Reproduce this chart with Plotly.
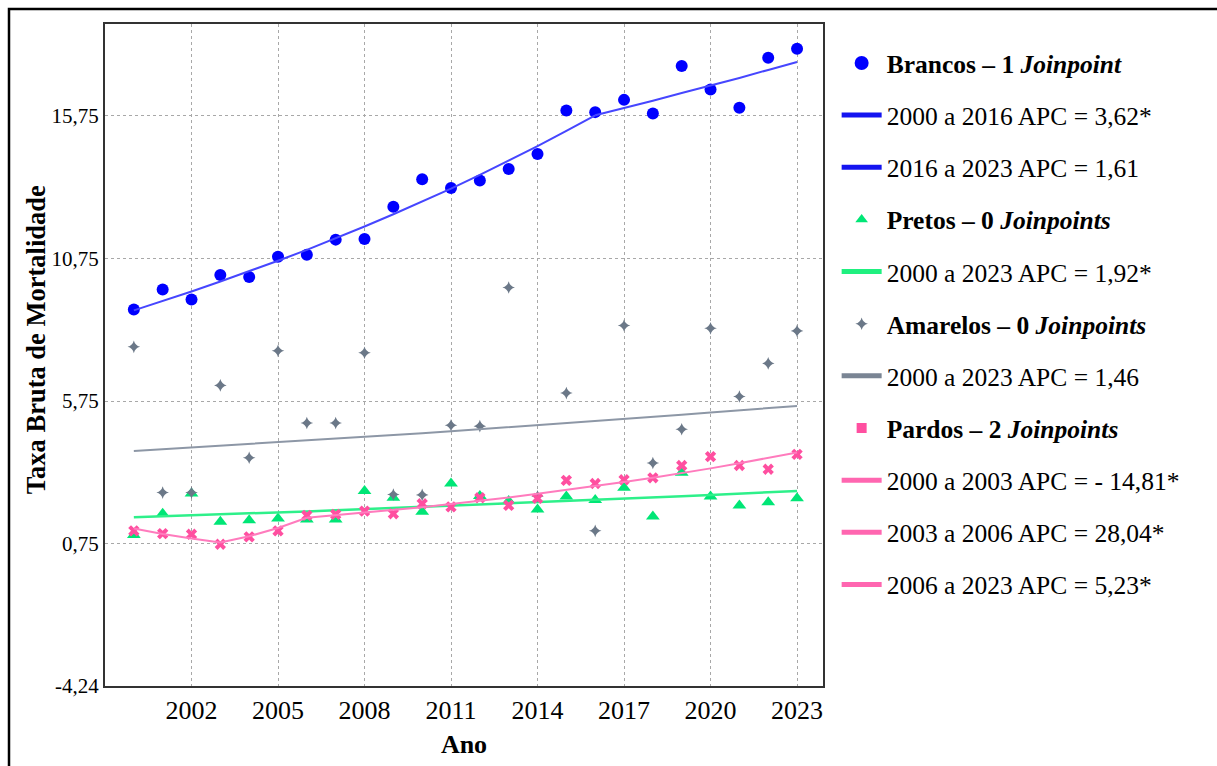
import plotly.graph_objects as go

# Crude mortality rate by race/colour, 2000-2023, with Joinpoint fitted trends
years = list(range(2000, 2024))

brancos = [8.96, 9.66, 9.31, 10.17, 10.10, 10.81, 10.88, 11.41, 11.43, 12.56, 13.53, 13.22,
           13.48, 13.89, 14.41, 15.94, 15.88, 16.31, 15.83, 17.50, 16.67, 16.03, 17.79, 18.10]
pretos = [1.05, 1.80, 2.51, 1.52, 1.57, 1.63, 1.60, 1.60, 2.60, 2.36, 1.87, 2.86,
          2.42, 2.25, 1.95, 2.40, 2.28, 2.71, 1.70, 3.24, 2.40, 2.09, 2.20, 2.34]
amarelos = [7.65, 2.54, 2.54, 6.30, 3.76, 7.51, 4.98, 4.98, 7.44, 2.47, 2.46, 4.90,
            4.87, 9.73, 2.41, 6.03, 1.20, 8.40, 3.58, 4.76, 8.30, 5.91, 7.07, 8.21]
pardos = [1.20, 1.10, 1.08, 0.73, 0.99, 1.20, 1.74, 1.78, 1.89, 1.80, 2.15, 2.04,
          2.36, 2.09, 2.34, 2.97, 2.86, 2.99, 3.06, 3.49, 3.80, 3.49, 3.36, 3.88]

# Modelled (fitted) values per year
brancos_fit = [8.93, 9.25, 9.59, 9.94, 10.30, 10.67, 11.05, 11.45, 11.87, 12.30, 12.74, 13.20,
               13.68, 14.18, 14.69, 15.22, 15.77, 16.02, 16.28, 16.55, 16.81, 17.08, 17.36, 17.64]
pretos_fit = [1.68, 1.71, 1.75, 1.78, 1.81, 1.85, 1.88, 1.92, 1.96, 1.99, 2.03, 2.07,
              2.11, 2.15, 2.19, 2.24, 2.28, 2.32, 2.37, 2.41, 2.46, 2.51, 2.55, 2.60]
amarelos_fit = [4.00, 4.06, 4.12, 4.18, 4.24, 4.30, 4.36, 4.42, 4.49, 4.55, 4.62, 4.69,
                4.76, 4.83, 4.90, 4.97, 5.04, 5.12, 5.19, 5.27, 5.35, 5.42, 5.50, 5.58]
pardos_fit = [1.28, 1.09, 0.93, 0.79, 1.01, 1.30, 1.66, 1.75, 1.84, 1.93, 2.03, 2.14,
              2.25, 2.37, 2.50, 2.63, 2.76, 2.91, 3.06, 3.22, 3.39, 3.57, 3.75, 3.95]

# Joinpoint segments: (first year, last year, legend label)
brancos_seg = [(2000, 2016, "2000 a 2016 APC = 3,62*"), (2016, 2023, "2016 a 2023 APC = 1,61")]
pretos_seg = [(2000, 2023, "2000 a 2023 APC = 1,92*")]
amarelos_seg = [(2000, 2023, "2000 a 2023 APC = 1,46")]
pardos_seg = [(2000, 2003, "2000 a 2003 APC = - 14,81*"), (2003, 2006, "2003 a 2006 APC = 28,04*"),
              (2006, 2023, "2006 a 2023 APC = 5,23*")]

y_ticks = [-4.24, 0.75, 5.75, 10.75, 15.75]
y_ticktext = ["-4,24", "0,75", "5,75", "10,75", "15,75"]
x_ticks = [2002, 2005, 2008, 2011, 2014, 2017, 2020, 2023]

series = [
    dict(name="<b>Brancos – 1 <i>Joinpoint</i></b>", obs=brancos, fit=brancos_fit, seg=brancos_seg,
         mcolor="#0000ff", lcolor="#4646ff", legcolor="#1414f0", symbol="circle", size=12,
         legsymbol="circle", legsize=14, lwidth=2),
    dict(name="<b>Pretos – 0 <i>Joinpoints</i></b>", obs=pretos, fit=pretos_fit, seg=pretos_seg,
         mcolor="#00e676", lcolor="#2ef08a", legcolor="#1ff07f", symbol="triangle-up", size=12,
         legsymbol="triangle-up", legsize=11, lwidth=2.5),
    dict(name="<b>Amarelos – 0 <i>Joinpoints</i></b>", obs=amarelos, fit=amarelos_fit, seg=amarelos_seg,
         mcolor="#6b7888", lcolor="#8d97a6", legcolor="#7a8594", symbol="star-diamond", size=9,
         legsymbol="star-diamond", legsize=9, lwidth=2),
    dict(name="<b>Pardos – 2 <i>Joinpoints</i></b>", obs=pardos, fit=pardos_fit, seg=pardos_seg,
         mcolor="#ff4fa0", lcolor="#ff7bbd", legcolor="#ff66b0", symbol="x", size=10,
         legsymbol="square", legsize=10, lwidth=2),
]

fig = go.Figure()
group = 0
for s in series:
    # observed rates
    fig.add_trace(go.Scatter(x=years, y=s["obs"], mode="markers", showlegend=False,
                             marker=dict(symbol=s["symbol"], size=s["size"], color=s["mcolor"],
                                         line=dict(width=0))))
    group += 1
    fig.add_trace(go.Scatter(x=[None], y=[None], mode="markers", name=s["name"],
                             legendgroup=f"g{group}",
                             marker=dict(symbol=s["legsymbol"], size=s["legsize"], color=s["mcolor"],
                                         line=dict(width=0))))
    for (a, b, label) in s["seg"]:
        i0, i1 = years.index(a), years.index(b)
        fig.add_trace(go.Scatter(x=years[i0:i1 + 1], y=s["fit"][i0:i1 + 1], mode="lines",
                                 showlegend=False, line=dict(color=s["lcolor"], width=s["lwidth"])))
        group += 1
        fig.add_trace(go.Scatter(x=[None], y=[None], mode="lines", name=label,
                                 legendgroup=f"g{group}",
                                 line=dict(color=s["legcolor"], width=5)))

serif = "Liberation Serif, Times New Roman, serif"
fig.update_layout(
    width=1217, height=766,
    margin=dict(l=105, r=394, t=24, b=80),
    paper_bgcolor="white", plot_bgcolor="white",
    font=dict(family=serif, color="black"),
    legend=dict(x=1.019, y=0.976, xanchor="left", yanchor="top",
                font=dict(family=serif, size=25.5, color="black"),
                traceorder="grouped", tracegroupgap=16, itemwidth=40,
                bgcolor="rgba(0,0,0,0)"),
    xaxis=dict(range=[1999.0, 2023.9], tickvals=x_ticks, ticks="",
               tickfont=dict(family=serif, size=26, color="black"),
               showgrid=True, gridcolor="#a8a8a8", griddash="dot", gridwidth=1,
               showline=True, mirror=True, linecolor="#333333", linewidth=2, zeroline=False,
               title=dict(text="<b>Ano</b>", font=dict(family=serif, size=26, color="black"),
                          standoff=11)),
    yaxis=dict(range=[-4.24, 18.97], tickvals=y_ticks, ticktext=y_ticktext, ticks="",
               tickfont=dict(family=serif, size=21, color="black"),
               showgrid=True, gridcolor="#a8a8a8", griddash="dot", gridwidth=1,
               showline=True, mirror=True, linecolor="#333333", linewidth=2, zeroline=False),
    annotations=[dict(text="<b>Taxa Bruta de Mortalidade</b>", xref="paper", yref="paper",
                      x=-0.097, y=0.523, xanchor="center", yanchor="middle", textangle=-90,
                      showarrow=False, font=dict(family=serif, size=26.5, color="black"))],
    shapes=[dict(type="rect", xref="paper", yref="paper", x0=-0.1337, y0=1.0227, x1=1.8, y1=-0.3,
                 line=dict(color="black", width=2.5), layer="below")],
)

fig.write_html("out.html")
